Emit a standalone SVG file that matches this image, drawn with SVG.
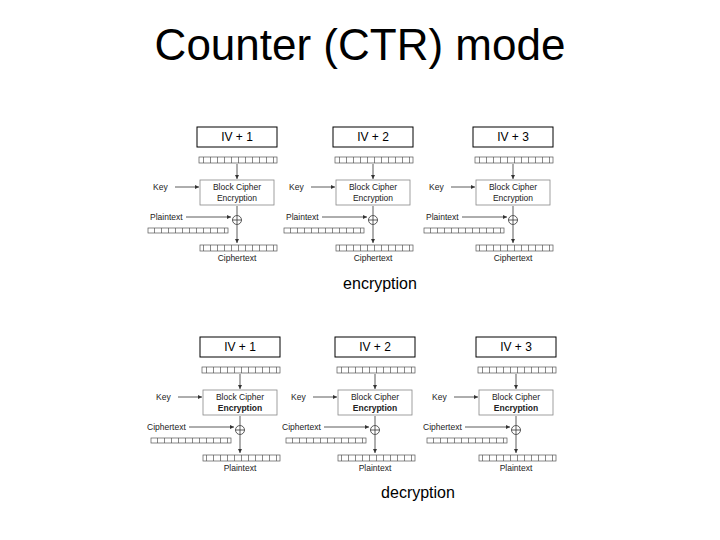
<svg xmlns="http://www.w3.org/2000/svg" xmlns:xlink="http://www.w3.org/1999/xlink" width="720" height="540" viewBox="0 0 720 540">
<style>
text{font-family:"Liberation Sans",Arial,sans-serif;fill:#000}
.t{font-size:44px}
.cap{font-size:16px}
.iv{font-size:12px}
.s{font-size:8.5px;fill:#222}
.b{font-weight:bold}
.box{fill:#fff;stroke:#000;stroke-width:1}
.gbox{fill:#fff;stroke:#888;stroke-width:0.8}
.bar{fill:url(#ticks);stroke:#555;stroke-width:0.7}
.ln{stroke:#333;stroke-width:0.8;fill:none}
</style>
<defs>
<pattern id="ticks" width="7" height="8" patternUnits="userSpaceOnUse">
<rect width="7" height="8" fill="#fff"/><line x1="0.5" y1="0" x2="0.5" y2="8" stroke="#555" stroke-width="0.7"/>
</pattern>
<marker id="ah" markerWidth="6" markerHeight="6" refX="5" refY="3" orient="auto"><path d="M0,0.5 L5,3 L0,5.5z" fill="#333"/></marker>
<g id="panelE">
<rect class="box" x="57" y="7" width="80" height="20"/>
<rect class="bar" x="59" y="37" width="78" height="6"/>
<rect class="gbox" x="60" y="60" width="74" height="25"/>
<rect class="bar" x="8" y="108" width="80" height="5"/>
<rect class="bar" x="60" y="125" width="77" height="6"/>
<circle class="ln" cx="97" cy="100" r="4.5"/>
<line class="ln" x1="92.5" y1="100" x2="101.5" y2="100"/>
<line class="ln" x1="97" y1="95.5" x2="97" y2="104.5"/>
<line class="ln" x1="97" y1="44" x2="97" y2="59" marker-end="url(#ah)"/>
<line class="ln" x1="35" y1="67" x2="59" y2="67" marker-end="url(#ah)"/>
<line class="ln" x1="97" y1="86" x2="97" y2="95"/>
<line class="ln" x1="46" y1="97" x2="91" y2="97" marker-end="url(#ah)"/>
<line class="ln" x1="97" y1="105" x2="97" y2="123" marker-end="url(#ah)"/>
</g>
</defs>
<text class="t" x="360" y="60" text-anchor="middle">Counter (CTR) mode</text>
<g id="connectors"/>
<g id="enc1" transform="translate(140,120)">
<use xlink:href="#panelE"/>
<text class="iv" x="97" y="21" text-anchor="middle">IV + 1</text>
<text class="s" x="13" y="70">Key</text>
<text class="s" x="97" y="70" text-anchor="middle">Block Cipher</text>
<text class="s" x="97" y="81" text-anchor="middle">Encryption</text>
<text class="s" x="10" y="100">Plaintext</text>
<text class="s" x="97" y="141" text-anchor="middle">Ciphertext</text>
</g>
<g id="enc2" transform="translate(276,120)">
<use xlink:href="#panelE"/>
<text class="iv" x="97" y="21" text-anchor="middle">IV + 2</text>
<text class="s" x="13" y="70">Key</text>
<text class="s" x="97" y="70" text-anchor="middle">Block Cipher</text>
<text class="s" x="97" y="81" text-anchor="middle">Encryption</text>
<text class="s" x="10" y="100">Plaintext</text>
<text class="s" x="97" y="141" text-anchor="middle">Ciphertext</text>
</g>
<g id="enc3" transform="translate(416,120)">
<use xlink:href="#panelE"/>
<text class="iv" x="97" y="21" text-anchor="middle">IV + 3</text>
<text class="s" x="13" y="70">Key</text>
<text class="s" x="97" y="70" text-anchor="middle">Block Cipher</text>
<text class="s" x="97" y="81" text-anchor="middle">Encryption</text>
<text class="s" x="10" y="100">Plaintext</text>
<text class="s" x="97" y="141" text-anchor="middle">Ciphertext</text>
</g>
<text class="cap" x="380" y="289" text-anchor="middle">encryption</text>
<g id="dec1" transform="translate(143,330)">
<use xlink:href="#panelE"/>
<text class="iv" x="97" y="21" text-anchor="middle">IV + 1</text>
<text class="s" x="13" y="70">Key</text>
<text class="s" x="97" y="70" text-anchor="middle">Block Cipher</text>
<text class="s b" x="97" y="81" text-anchor="middle">Encryption</text>
<text class="s" x="4" y="100">Ciphertext</text>
<text class="s" x="97" y="141" text-anchor="middle">Plaintext</text>
</g>
<g id="dec2" transform="translate(278,330)">
<use xlink:href="#panelE"/>
<text class="iv" x="97" y="21" text-anchor="middle">IV + 2</text>
<text class="s" x="13" y="70">Key</text>
<text class="s" x="97" y="70" text-anchor="middle">Block Cipher</text>
<text class="s b" x="97" y="81" text-anchor="middle">Encryption</text>
<text class="s" x="4" y="100">Ciphertext</text>
<text class="s" x="97" y="141" text-anchor="middle">Plaintext</text>
</g>
<g id="dec3" transform="translate(419,330)">
<use xlink:href="#panelE"/>
<text class="iv" x="97" y="21" text-anchor="middle">IV + 3</text>
<text class="s" x="13" y="70">Key</text>
<text class="s" x="97" y="70" text-anchor="middle">Block Cipher</text>
<text class="s b" x="97" y="81" text-anchor="middle">Encryption</text>
<text class="s" x="4" y="100">Ciphertext</text>
<text class="s" x="97" y="141" text-anchor="middle">Plaintext</text>
</g>
<text class="cap" x="418" y="498" text-anchor="middle">decryption</text>
</svg>
